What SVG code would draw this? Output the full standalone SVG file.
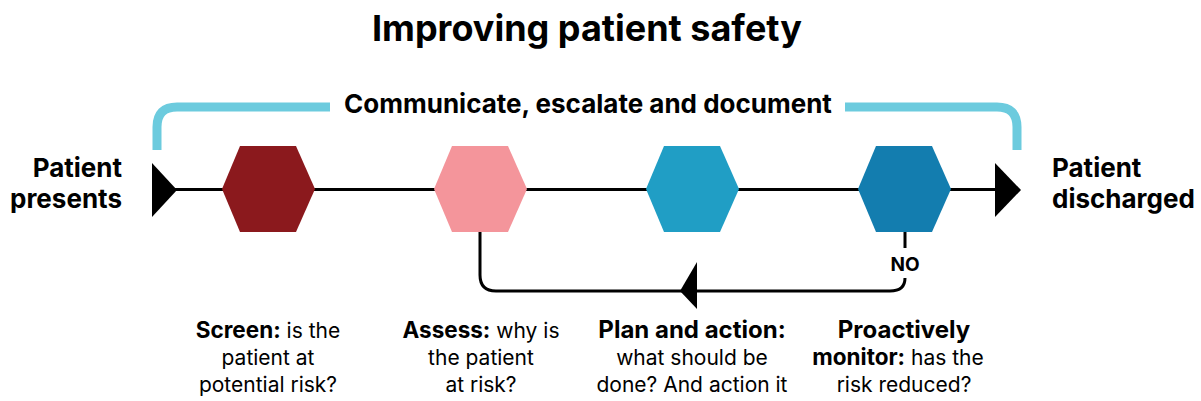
<svg xmlns="http://www.w3.org/2000/svg" width="1201" height="401" viewBox="0 0 1201 401">
<style>
text{font-family:Inter,"Liberation Sans",sans-serif;fill:#000}
.b{font-weight:700;font-size:22.5px}
.t{font-size:36px;font-weight:700;text-anchor:middle}
.h{font-size:26px;font-weight:700;text-anchor:middle}
.end{font-size:26px;font-weight:700}
.lab{font-size:21px;text-anchor:middle}
.lab.bl{font-weight:700;font-size:24px}
.no{font-size:19px;font-weight:700;text-anchor:middle}
.line{stroke:#000;stroke-width:3;fill:none}
.br{stroke:#6ccbde;stroke-width:9;fill:none}
</style>
<rect width="1201" height="401" fill="#fff"/>
<text class="t" x="587" y="41">Improving patient safety</text>
<g id="bracket">
<path class="br" d="M157,150 V127 Q157,107 177,107 H330"/>
<path class="br" d="M845,107 H997 Q1017,107 1017,127 V150"/>
<text class="h" x="588" y="113">Communicate, escalate and document</text>
</g>
<g id="connectors">
<line class="line" x1="170" y1="189.5" x2="1000" y2="189.5"/>
<path d="M152,163 L177,190 L152,217 Z" fill="#000"/>
<path d="M995,163 L1021,190 L995,217 Z" fill="#000"/>
<path class="line" d="M480,232 V275 Q480,291 496,291 H890 Q905,291 905,278"/>
<line class="line" x1="905" y1="232" x2="905" y2="248"/>
<path d="M680,291 L697,262 L697,309 Z" fill="#000"/>
<text class="no" x="905" y="271">NO</text>
</g>
<g id="start"><text class="end" x="122" y="177" text-anchor="end">Patient</text><text class="end" x="122" y="208" text-anchor="end">presents</text></g>
<g id="end"><text class="end" x="1052" y="177">Patient</text><text class="end" x="1052" y="208">discharged</text></g>
<g id="screen">
<polygon points="222,189 240,146 296,146 315,189 296,232 240,232" fill="#8b191d"/>
<text class="lab" x="268" y="338"><tspan class="b">Screen:</tspan> is the</text>
<text class="lab" x="268" y="365">patient at</text>
<text class="lab" x="268" y="392">potential risk?</text>
</g>
<g id="assess">
<polygon points="434,189 452,146 508,146 527,189 508,232 452,232" fill="#f4959b"/>
<text class="lab" x="481" y="338"><tspan class="b">Assess:</tspan> why is</text>
<text class="lab" x="481" y="365">the patient</text>
<text class="lab" x="481" y="392">at risk?</text>
</g>
<g id="plan">
<polygon points="646,189 664,146 720,146 739,189 720,232 664,232" fill="#209ec5"/>
<text class="lab bl" x="692" y="338">Plan and action:</text>
<text class="lab" x="692" y="365">what should be</text>
<text class="lab" x="692" y="392">done? And action it</text>
</g>
<g id="monitor">
<polygon points="858,189 876,146 932,146 951,189 932,232 876,232" fill="#137daf"/>
<text class="lab bl" x="904" y="338">Proactively</text>
<text class="lab" x="898" y="365"><tspan class="b">monitor:</tspan> has the</text>
<text class="lab" x="904" y="392">risk reduced?</text>
</g>
</svg>
